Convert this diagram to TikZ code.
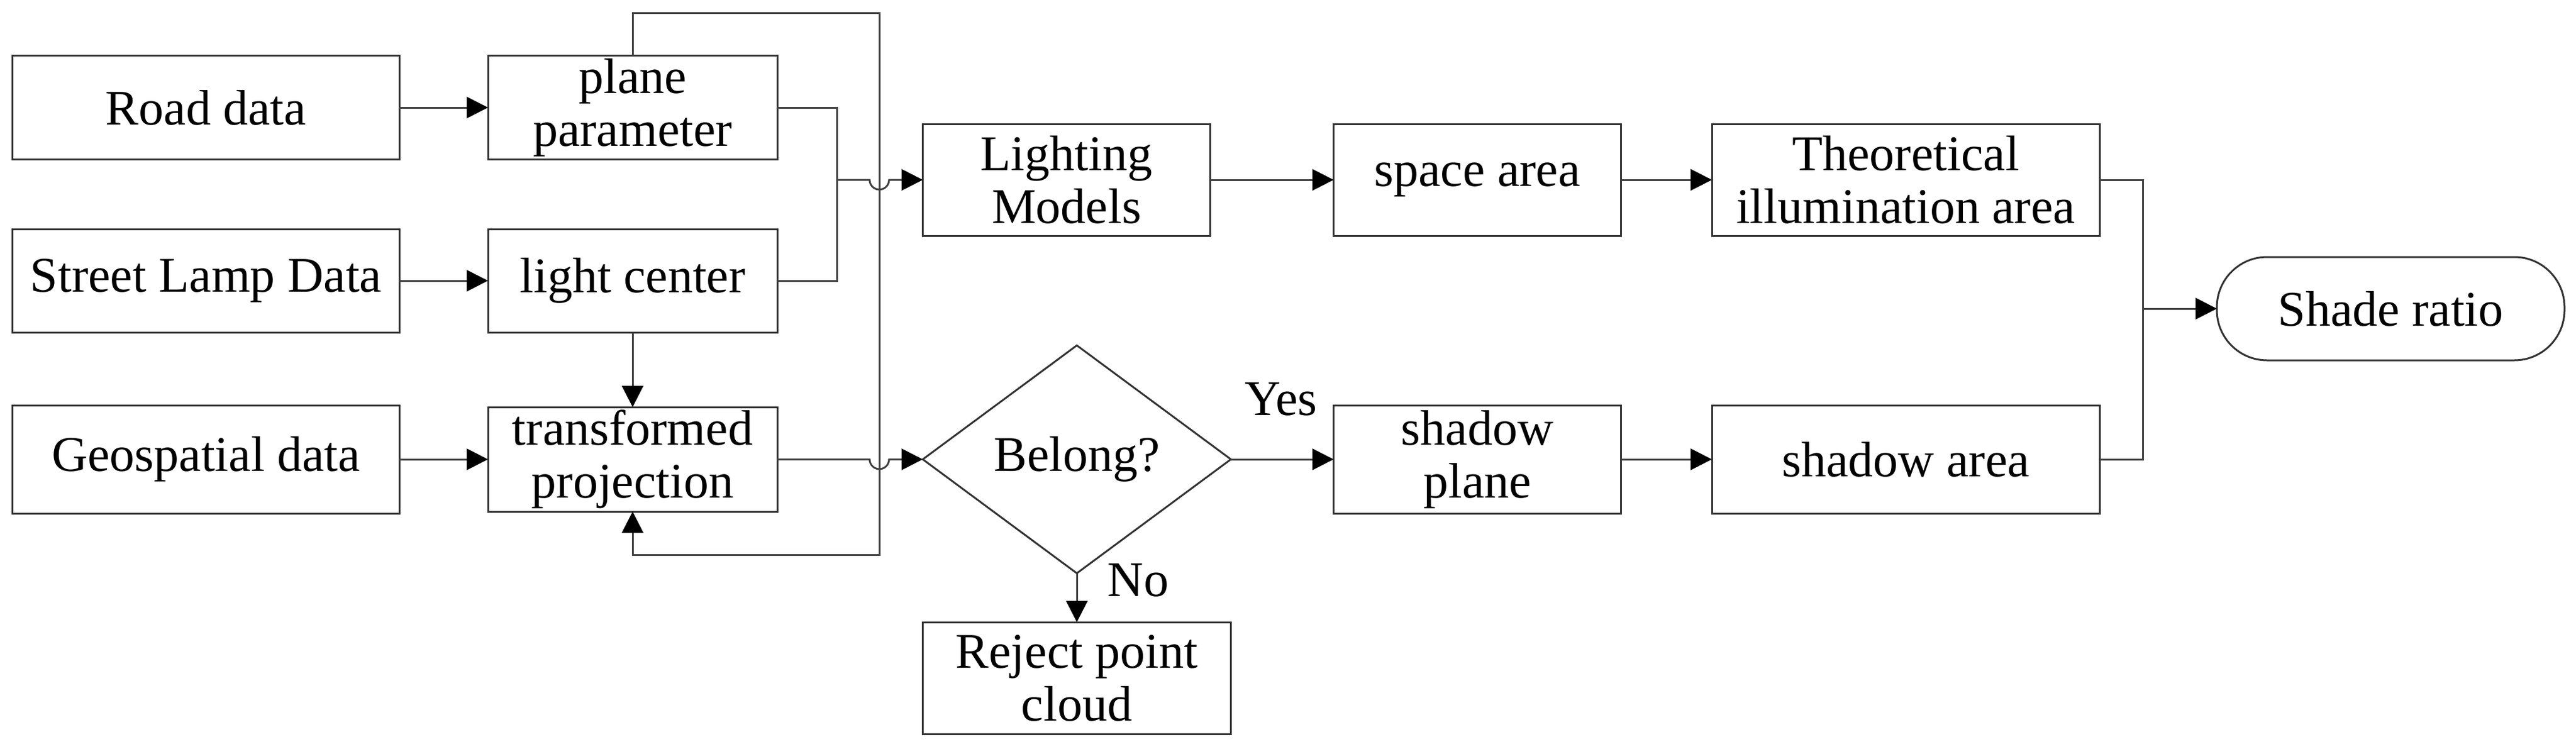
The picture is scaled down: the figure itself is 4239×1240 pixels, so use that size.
\documentclass[tikz,border=0pt]{standalone}
\usepackage{fontspec}
\setmainfont{Liberation Serif}
\usetikzlibrary{arrows.meta,shapes.geometric}

\tikzset{every picture/.style={line width=0.6pt}}
\tikzset{
  box/.style={draw=black!80, inner sep=0pt, outer sep=0pt, align=center, font=\fontsize{16.4}{17.4}\selectfont},
  flowline/.style={draw=black!75},
  arr/.style={flowline, -{Triangle[length=7pt,width=7pt,color=black]}}
}

\begin{document}
\begin{tikzpicture}[x=0.2pt,y=0.2pt,yscale=-1,xscale=1]
		\useasboundingbox (0,0) rectangle (4239,1240);

		%Shape: Rectangle [input column]
		\node [box, minimum width=127.2pt, minimum height=34pt] (road) at (339,177) {Road data};
		\node [box, minimum width=127.2pt, minimum height=34pt] (lamp) at (339,462) {Street Lamp Data};
		\node [box, minimum width=127.2pt, minimum height=35.6pt] (geo) at (339,756) {Geospatial data};
		%Shape: Rectangle [second column]
		\node [box, minimum width=95.2pt, minimum height=34pt] (plane) at (1041,177) {plane\\parameter};
		\node [box, minimum width=95.2pt, minimum height=34pt] (light) at (1041,462) {light center};
		\node [box, minimum width=95.2pt, minimum height=34.4pt] (trans) at (1041,756) {transformed\\projection};
		%Shape: Rectangle [upper row]
		\node [box, minimum width=94.6pt, minimum height=36.8pt] (lm) at (1755,296) {Lighting\\Models};
		\node [box, minimum width=94.6pt, minimum height=36.8pt] (space) at (2431,296) {space area};
		\node [box, minimum width=127.6pt, minimum height=36.8pt] (theo) at (3136,296) {Theoretical\\illumination area};
		%Shape: Diamond
		\node [box, diamond, minimum width=101.4pt, minimum height=75pt] (belong) at (1772,756) {Belong?};
		\node [box, minimum width=101.4pt, minimum height=36.8pt] (reject) at (1772,1116) {Reject point\\cloud};
		%Shape: Rectangle [lower row]
		\node [box, minimum width=94.6pt, minimum height=35.6pt] (splane) at (2431,756) {shadow\\plane};
		\node [box, minimum width=127.6pt, minimum height=35.6pt] (sarea) at (3136,756) {shadow area};
		%Shape: Rounded Rectangle
		\node [box, rounded corners=16.5pt, minimum width=114.4pt, minimum height=34pt] (shade) at (3934,508) {Shade ratio};

		%Junctions
		\coordinate (jA) at (1377,296);
		\coordinate (hopA) at (1431,296);
		\coordinate (hopB) at (1431,756);
		\coordinate (fbT) at (1447,21);
		\coordinate (fbB) at (1447,913);
		\coordinate (jC) at (3526,508);

		%Straight Lines
		\draw [arr] (road) -- (plane);
		\draw [arr] (lamp) -- (light);
		\draw [arr] (geo) -- (trans);
		\draw [arr] (light) -- (trans);
		\draw [flowline] (plane.east) -| (jA) |- (light.east);
		\draw [arr] (jA) -- (hopA) arc[start angle=180, end angle=0, radius=3.2pt] -- (lm.west);
		\draw [arr] (trans.east) -- (hopB) arc[start angle=180, end angle=0, radius=3.2pt] -- (belong.west);
		\draw [arr] (plane.north) |- (fbT) -- (fbB) -| (trans.south);
		\draw [arr] (belong.east) -- (splane.west);
		\draw [arr] (belong.south) -- (reject.north);
		\draw [arr] (lm) -- (space);
		\draw [arr] (space) -- (theo);
		\draw [arr] (splane) -- (sarea);
		\draw [flowline] (theo.east) -| (jC) |- (sarea.east);
		\draw [arr] (jC) -- (shade.west);

		% Text Node
		\node [font=\fontsize{16.4}{17.4}\selectfont] (yes) at (2108,657) {Yes};
		% Text Node
		\node [font=\fontsize{16.4}{17.4}\selectfont] (no) at (1873,955) {No};
\end{tikzpicture}
\end{document}
